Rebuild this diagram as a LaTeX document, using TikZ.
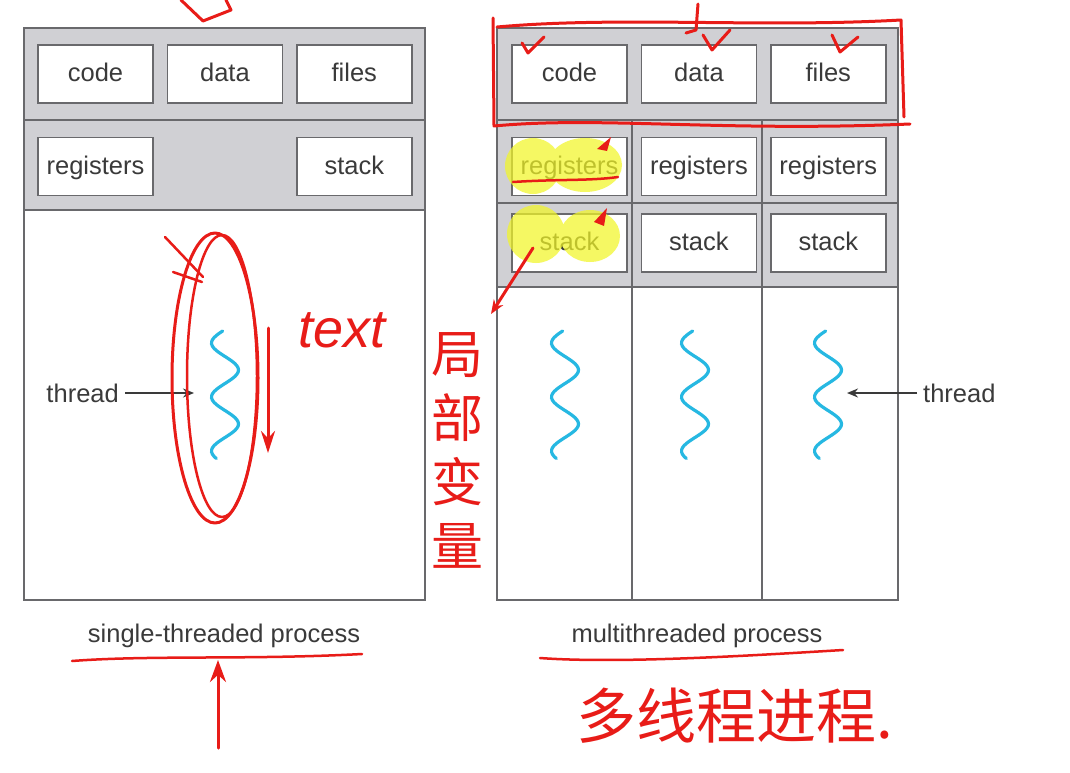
\documentclass[tikz,border=0pt]{standalone}
\usepackage{fontspec}
\setmainfont{Liberation Sans}
\newfontfamily\cjk{Noto Sans CJK SC}
\usepackage{tikz}
\usetikzlibrary{arrows.meta, positioning}

\definecolor{bandgray}{RGB}{208,208,212}
\definecolor{framegray}{RGB}{105,105,108}
\definecolor{inkgray}{RGB}{58,58,58}
\definecolor{threadblue}{RGB}{38,184,226}
\definecolor{penred}{RGB}{232,28,24}
\definecolor{hlyellow}{RGB}{242,246,40}

\begin{document}
\begin{tikzpicture}[
    x=1pt, y=-1pt,
    node distance=13pt and 13pt,
    cell/.style={rectangle, draw=framegray, line width=1.4pt, fill=white, minimum width=115pt, minimum height=58pt, inner sep=0pt, text height=19pt, text depth=3pt, text=inkgray, font=\fontsize{25.5}{30}\selectfont},
    band/.style={draw=framegray, line width=1.4pt, fill=bandgray},
    procframe/.style={draw=framegray, line width=1.4pt},
    caption/.style={text=inkgray, inner sep=6pt, font=\fontsize{25.5}{30}\selectfont},
    thread/.style={threadblue, line width=3.2pt, line cap=round},
    ptr/.style={-{Stealth[length=11pt, width=9pt]}, inkgray, line width=1.6pt},
    redpen/.style={penred, line width=3pt, line cap=round, line join=round},
    hand/.style={text=penred, inner sep=0pt}
]
    \useasboundingbox (0,0) rectangle (1070,773);
    \fill[white] (0,0) rectangle (1070,773);

    % Proceso de un hilo
    \draw[band] (24,28) rectangle (425,120);
    \draw[band] (24,120) rectangle (425,210);
    \draw[procframe, fill=white] (24,210) rectangle (425,600);

    \node[cell] (code1) at (95.5,74) {code};
    \node[cell, right=of code1] (data1) {data};
    \node[cell, right=of data1] (files1) {files};
    \node[cell, below=33pt of code1] (regs1) {registers};
    \node[cell, below=33pt of files1] (stack1) {stack};

    % Proceso multihilo
    \draw[band] (497,28) rectangle (898,120);
    \draw[band] (497,120) rectangle (898,287);
    \draw[procframe, fill=white] (497,287) rectangle (898,600);
    \draw[procframe] (497,203) -- (898,203);
    \draw[procframe] (632,120) -- (632,600);
    \draw[procframe] (762,120) -- (762,600);

    \node[cell] (code2) at (569.5,74) {code};
    \node[cell, right=of code2] (data2) {data};
    \node[cell, right=of data2] (files2) {files};
    \foreach \c/\n in {code2/A, data2/B, files2/C} {
        \node[cell, below=33pt of \c] (regs\n) {registers};
        \node[cell, below=17pt of regs\n] (stack\n) {stack};
    }

    % Hilos
    \foreach \cx in {225, 565, 695, 828}
        \draw[thread] plot[smooth, domain=-80:770, samples=60] ({\cx-13.5*cos(\x)}, {343+\x*0.15});

    \node[caption, anchor=east] (lbl1) at (125,393) {thread};
    \coordinate (tip1) at (194,393);
    \draw[ptr] (lbl1) -- (tip1);
    \node[caption, anchor=west] (lbl2) at (917,393) {thread};
    \coordinate (tip2) at (847,393);
    \draw[ptr] (lbl2) -- (tip2);

    \node[caption] (single) at (224,636) {single-threaded process};
    \node[caption] (multi) at (697,636) {multithreaded process};

    % Anotaciones a mano
    \fill[hlyellow, opacity=0.72]
        (533,166) ellipse [x radius=28, y radius=28]
        (585,165) ellipse [x radius=37, y radius=27]
        (536,234) ellipse [x radius=29, y radius=29]
        (590,236) ellipse [x radius=30, y radius=26];
    \draw[redpen, line width=2.5pt] (513,182) .. controls (560,179) and (590,181) .. (618,177);
    \fill[penred] (597,149) -- (611,137) -- (607,151) -- cycle;
    \fill[penred] (594,222) -- (607,208) -- (604,226) -- cycle;
    \draw[redpen, -{Stealth[length=14pt, width=11pt]}] (533,248) -- (491,314);

    \draw[redpen] (493,18) -- (494,126) .. controls (600,116) and (720,132) .. (910,124);
    \draw[redpen] (497,27) .. controls (620,16) and (760,28) .. (901,20) -- (904,117);
    \draw[redpen] (522,43) -- (528,53) -- (544,37);
    \draw[redpen] (703,35) -- (712,50) -- (730,30);
    \draw[redpen] (698,4) -- (696,30) -- (686,33);
    \draw[redpen] (832,35) -- (840,52) -- (858,37);
    \draw[redpen] (181,0) -- (203,21) -- (231,10) -- (226,0);

    \draw[redpen] (215,378) ellipse [x radius=43, y radius=145];
    \draw[redpen, line width=2.5pt] (222,376) ellipse [x radius=35, y radius=141];
    \draw[redpen, line width=2.5pt] (165,237) -- (203,277);
    \draw[redpen, line width=2.5pt] (173,272) -- (202,282);
    \draw[redpen, -{Stealth[length=22pt, width=14pt]}] (268,328) -- (268,453);
    \node[hand, font=\fontsize{54}{54}\selectfont\itshape] (textnote) at (342,330) {text};

    \node[hand, font=\cjk\fontsize{52}{64}\selectfont, align=center] (jubu) at (457,450) {局\\部\\变\\量};

    \draw[redpen, line width=2.5pt] (72,661) .. controls (150,655) and (250,660) .. (362,654);
    \draw[redpen, -{Stealth[length=22pt, width=16pt]}] (218,748) -- (218,660);
    \draw[redpen, line width=2.5pt] (540,658) .. controls (620,664) and (760,655) .. (843,650);
    \node[hand, font=\cjk\fontsize{60}{60}\selectfont] (duo) at (735,716) {多线程进程.};

\end{tikzpicture}
\end{document}
